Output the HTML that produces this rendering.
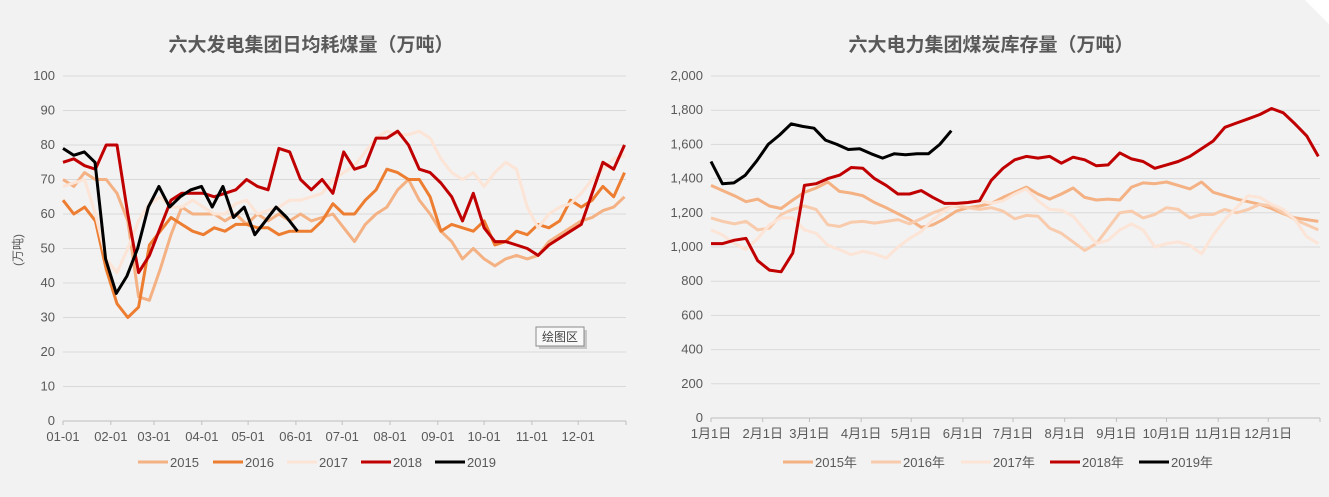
<!DOCTYPE html>
<html><head><meta charset="utf-8">
<style>
body{margin:0;background:#fff;}
svg{display:block;font-family:"Liberation Sans","Noto Sans CJK SC",sans-serif;}
</style></head>
<body>
<svg id="s" width="1329" height="497" viewBox="0 0 1329 497">
<rect x="0" y="0" width="1329" height="497" fill="#f2f2f2"/>
<polygon points="1305,0 1329,0 1329,24" fill="#ffffff"/>
<text x="311" y="51" text-anchor="middle" font-size="19" font-weight="bold" fill="#595959">六大发电集团日均耗煤量（万吨）</text>
<text x="991" y="51" text-anchor="middle" font-size="19" font-weight="bold" fill="#595959">六大电力集团煤炭库存量（万吨）</text>
<text transform="translate(22,250) rotate(-90)" text-anchor="middle" font-size="12" fill="#595959">(万吨)</text>
<g id="L"></g>
<g id="R"></g>
<g>
<rect x="539" y="330" width="48" height="19" fill="#c8c8c8"/>
<rect x="536" y="327" width="48" height="19" fill="#f8f8f8" stroke="#8a8a8a" stroke-width="1"/>
<text x="560" y="341" text-anchor="middle" font-size="12" fill="#444">绘图区</text>
</g>
</svg>
<script>
const NS="http://www.w3.org/2000/svg";
const monthStarts=[0,31,59,90,120,151,181,212,243,273,304,334];
const leftMonthLabels=["01-01","02-01","03-01","04-01","05-01","06-01","07-01","08-01","09-01","10-01","11-01","12-01"];
const rightMonthLabels=["1月1日","2月1日","3月1日","4月1日","5月1日","6月1日","7月1日","8月1日","9月1日","10月1日","11月1日","12月1日"];
const leftYTicks=[0,10,20,30,40,50,60,70,80,90,100];
const rightYTicks=[0,200,400,600,800,1000,1200,1400,1600,1800,2000];
const rightYLabels=["0","200","400","600","800","1,000","1,200","1,400","1,600","1,800","2,000"];
const seriesNames=["2015","2016","2017","2018","2019"];
const left2015=[70,68,72,70,70,66,58,36,35,44,54,62,60,60,60,58,60,57,60,58,60,58,60,58,59,60,56,52,57,60,62,67,70,64,60,55,52,47,50,47,45,47,48,47,48,52,54,56,58,59,61,62,65];
const left2016=[64,60,62,58,44,34,30,33,51,55,59,57,55,54,56,55,57,57,56,56,54,55,55,55,58,63,60,60,64,67,73,72,70,70,65,55,57,56,55,58,51,52,55,54,57,56,58,64,62,64,68,65,72];
const left2017=[68,69,70,60,47,43,50,58,63,65,62,62,64,62,60,60,63,64,60,61,62,64,64,65,66,70,72,74,78,82,84,83,83,84,82,76,72,70,72,68,72,75,73,62,56,60,62,63,66,70,73,76,77];
const left2018=[75,76,74,73,80,80,60,43,48,56,64,66,66,66,65,66,67,70,68,67,79,78,70,67,70,66,78,73,74,82,82,84,80,73,72,69,65,58,66,56,52,52,51,50,48,51,53,55,57,66,75,73,80];
const left2019=[79,77,78,75,47,37,42,50,62,68,62,65,67,68,62,68,59,62,54,58,62,59,55];
const left2019EndDay=152;
const right2015=[1360,1330,1300,1265,1280,1240,1225,1275,1320,1345,1380,1325,1315,1300,1260,1230,1195,1160,1115,1130,1165,1210,1230,1240,1255,1290,1320,1350,1310,1280,1310,1345,1290,1275,1280,1275,1350,1375,1370,1380,1360,1340,1380,1320,1300,1280,1265,1250,1225,1195,1170,1160,1150];
const right2016=[1170,1150,1135,1150,1100,1110,1190,1220,1240,1220,1130,1120,1145,1150,1140,1150,1160,1135,1165,1200,1225,1240,1230,1220,1230,1210,1165,1185,1180,1110,1080,1030,980,1020,1110,1200,1210,1170,1190,1230,1220,1170,1190,1190,1220,1200,1220,1250,1240,1200,1160,1130,1100];
const right2017=[1100,1070,1020,985,1050,1130,1170,1170,1100,1080,1010,985,955,975,960,935,1000,1050,1090,1160,1210,1245,1260,1270,1255,1270,1310,1340,1270,1220,1215,1180,1100,1020,1040,1100,1135,1100,1000,1020,1030,1010,960,1070,1160,1230,1300,1290,1250,1220,1160,1060,1020];
const right2018=[1020,1020,1040,1050,920,865,855,965,1360,1370,1400,1420,1465,1460,1400,1360,1310,1310,1330,1290,1255,1255,1260,1270,1390,1460,1510,1530,1520,1530,1490,1525,1510,1475,1480,1550,1515,1500,1460,1480,1500,1530,1575,1620,1700,1725,1750,1775,1810,1785,1720,1650,1530];
const right2019=[1500,1370,1375,1420,1504,1600,1655,1720,1705,1695,1625,1600,1570,1575,1545,1520,1545,1540,1545,1545,1600,1680];
const right2019EndDay=144;

const leftColors=["#f4b183","#ed7d31","#fce4d6","#c00000","#000000"];
const rightColors=["#f4b183","#f8cbad","#fce4d6","#c00000","#000000"];

function mk(tag,attrs,parent){const e=document.createElementNS(NS,tag);for(const k in attrs)e.setAttribute(k,attrs[k]);parent.appendChild(e);return e;}

function drawChart(g,cfg){
  const xs=d=>cfg.x0+d*(cfg.x1-cfg.x0)/365;
  const ys=v=>cfg.y0-(v/cfg.ymax)*(cfg.y0-cfg.y1);
  cfg.yTicks.forEach((v,i)=>{
    const ln=mk("line",{x1:cfg.x0,x2:cfg.x1,y1:ys(v),y2:ys(v),stroke:"#d9d9d9","stroke-width":1},g);
    
    
    const t=mk("text",{x:cfg.x0-8,y:ys(v)+4,"text-anchor":"end","font-size":13,fill:"#595959"},g);
    t.textContent=cfg.yLabels[i];
    
    
  });
  const ax=mk("line",{x1:cfg.x0,x2:cfg.x1,y1:cfg.y0,y2:cfg.y0,stroke:"#bfbfbf","stroke-width":1},g);
  
  
  monthStarts.concat([365]).forEach(d=>{
    const tk=mk("line",{x1:xs(d),x2:xs(d),y1:cfg.y0,y2:cfg.y0+4,stroke:"#bfbfbf"},g);
    
    
  });
  monthStarts.forEach((d,i)=>{
    const t=mk("text",{x:xs(d),y:cfg.y0+20,"text-anchor":"middle","font-size":13,fill:"#595959"},g);
    t.textContent=cfg.xLabels[i];
    
    
  });
  cfg.series.forEach((vals,si)=>{
    const end=cfg.ends[si];
    const step=end/(vals.length-1);
    const pts=vals.map((v,i)=>xs(i*step).toFixed(1)+","+ys(v).toFixed(1)).join(" ");
    const pl=mk("polyline",{points:pts,fill:"none",stroke:cfg.colors[si],"stroke-width":3,"stroke-linejoin":"round"},g);
    
    
  });
  cfg.legendX.forEach((lx,i)=>{
    const l=mk("line",{x1:lx,x2:lx+30,y1:cfg.legendY,y2:cfg.legendY,stroke:cfg.colors[i],"stroke-width":3},g);
    
    
    const t=mk("text",{x:lx+32,y:cfg.legendY+5,"font-size":13,fill:"#595959"},g);
    t.textContent=seriesNames[i]+cfg.legendSuffix;
    
    
  });
}
drawChart(document.getElementById("L"),{x0:63,x1:626,y0:421,y1:76,ymax:100,yTicks:leftYTicks,yLabels:leftYTicks.map(String),xLabels:leftMonthLabels,
  series:[left2015,left2016,left2017,left2018,left2019],ends:[364,364,364,364,left2019EndDay],colors:leftColors,
  legendX:[138,213,287,361,435],legendY:462,legendSuffix:""});
drawChart(document.getElementById("R"),{x0:711,x1:1320,y0:418,y1:76,ymax:2000,yTicks:rightYTicks,yLabels:rightYLabels,xLabels:rightMonthLabels,
  series:[right2015,right2016,right2017,right2018,right2019],ends:[364,364,364,364,right2019EndDay],colors:rightColors,
  legendX:[783,871,961,1050,1139],legendY:462,legendSuffix:"年"});
</script>
</body></html>
